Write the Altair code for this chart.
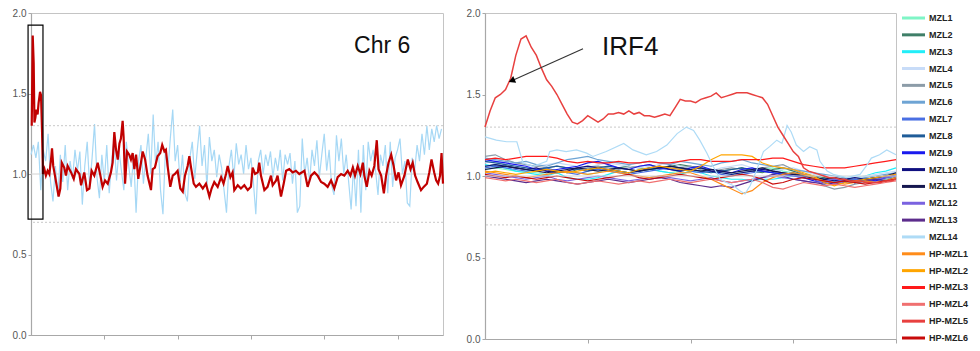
import altair as alt
import pandas as pd

# ---------------- Left panel: Chr 6 (x in Mb) ----------------
left_x_max = 168.6
left_ticks = [30, 60, 90, 120, 150]

# light-blue trace, one value per Mb (0..168)
left_blue = [
    1.12, 1.18, 1.10, 1.20, 0.90, 1.15, 1.08, 1.25, 0.95, 0.83,
    1.05, 0.86, 1.12, 0.95, 1.18, 0.90, 1.08, 0.97, 1.15, 1.02,
    1.14, 0.81, 1.05, 1.20, 0.92, 1.10, 1.31, 0.98, 0.85, 1.12,
    0.95, 1.18, 0.88, 1.08, 1.22, 0.96, 1.15, 1.02, 0.90, 1.20,
    1.05, 0.92, 1.12, 0.76, 1.08, 1.18, 0.94, 1.10, 1.25, 1.00,
    1.37, 1.05, 1.20, 0.90, 0.75, 1.15, 1.02, 1.22, 1.40, 1.08,
    1.18, 0.95, 1.12, 0.88, 0.83, 1.10, 1.20, 0.97, 1.14, 1.30,
    1.05, 1.18, 0.92, 1.23, 1.08, 1.15, 0.98, 1.12, 1.04, 0.90,
    0.76, 1.05, 1.15, 0.97, 1.19, 1.06, 1.12, 1.00, 1.18, 1.03,
    1.10, 0.95, 0.75, 1.08, 1.15, 1.00, 1.12, 1.05, 1.14, 0.98,
    1.10, 1.02, 1.15, 0.96, 1.12, 1.06, 1.13, 0.94, 1.08, 0.76,
    0.80, 1.22, 1.00, 1.10, 0.95, 1.15, 1.05, 1.21, 0.98, 1.12,
    1.25, 1.02, 1.15, 0.93, 0.87, 1.24, 1.08, 1.22, 1.00, 1.12,
    0.95, 0.78, 1.05, 0.80, 1.15, 0.76, 1.18, 0.90, 1.20, 1.08,
    1.15, 1.02, 0.87, 1.12, 1.05, 1.18, 0.88, 1.20, 0.92, 1.10,
    1.15, 1.22, 1.00, 1.08, 0.82, 0.80, 1.10, 1.02, 1.18, 1.08,
    1.25, 1.12, 1.30, 1.15, 1.28, 1.20, 1.30, 1.22, 1.28,
]
left_blue_mb = list(range(len(left_blue)))

# dark-red trace, (Mb, ratio)
left_red_points = [
    (0.3, 1.30), (0.7, 1.86), (1.1, 1.69), (1.4, 1.32), (1.8, 1.35), (2.2, 1.40),
    (2.7, 1.37), (3.1, 1.44), (3.7, 1.51), (4.1, 1.49), (4.5, 1.28), (4.9, 1.00),
    (5.5, 1.03), (6.1, 0.99), (6.8, 1.02), (7.5, 1.00), (8.2, 1.09), (8.6, 1.16),
    (9.1, 1.05), (9.8, 0.99), (10.6, 0.92), (11.3, 0.86), (12.0, 0.91), (12.6, 1.07),
    (13.6, 1.04), (14.3, 0.99), (15.0, 1.05), (16.4, 1.01), (17.5, 0.97), (18.4, 1.03),
    (19.8, 1.00), (20.5, 0.93), (21.8, 1.01), (22.9, 0.90), (23.9, 0.91), (24.8, 1.02),
    (25.9, 0.99), (27.3, 1.07), (28.4, 0.99), (29.3, 0.92), (30.3, 0.96), (31.4, 0.94),
    (32.7, 1.01), (33.4, 1.07), (34.1, 1.26), (34.8, 1.15), (35.5, 1.09), (36.2, 1.19),
    (36.8, 1.22), (37.5, 1.33), (37.9, 1.23), (38.5, 0.94), (39.3, 1.14), (40.2, 1.12),
    (40.9, 1.09), (41.6, 1.13), (42.3, 1.03), (43.0, 1.12), (43.9, 0.97), (45.0, 1.07),
    (45.7, 1.14), (46.7, 1.09), (47.7, 0.99), (49.1, 0.90), (49.8, 1.03), (50.7, 1.04),
    (51.8, 1.11), (52.9, 1.13), (53.7, 1.18), (54.6, 1.14), (55.2, 1.15), (55.9, 1.05),
    (57.0, 0.92), (58.0, 0.99), (58.9, 1.00), (60.0, 1.02), (61.1, 0.91), (62.1, 0.89),
    (63.0, 0.99), (64.1, 1.05), (64.8, 1.11), (65.5, 1.04), (66.6, 0.94), (67.5, 0.92),
    (68.9, 0.94), (70.3, 0.91), (71.6, 0.94), (73.0, 0.86), (73.9, 0.91), (75.0, 0.95),
    (76.4, 0.92), (77.8, 0.98), (78.8, 0.94), (79.8, 1.00), (80.5, 1.05), (81.6, 0.98),
    (82.5, 1.01), (83.2, 0.90), (84.6, 0.93), (85.9, 0.91), (87.3, 0.93), (88.7, 0.90),
    (90.0, 0.92), (90.7, 1.04), (91.7, 1.00), (92.8, 1.01), (93.4, 1.07), (94.1, 0.99),
    (95.5, 0.90), (96.8, 0.92), (98.2, 0.99), (98.9, 0.93), (100.3, 0.96), (100.9, 0.99),
    (102.3, 0.86), (103.4, 0.94), (104.4, 1.02), (105.7, 1.03), (107.1, 1.01), (108.4, 1.02),
    (109.8, 1.00), (111.9, 1.02), (113.2, 0.92), (114.6, 0.99), (116.0, 1.01), (117.3, 0.99),
    (118.7, 0.95), (120.0, 0.94), (121.4, 0.92), (122.8, 0.96), (124.1, 0.91), (125.5, 0.98),
    (126.9, 1.00), (128.2, 0.99), (129.6, 1.02), (130.7, 0.99), (131.7, 1.04), (132.6, 0.99),
    (133.7, 1.05), (134.8, 1.00), (135.8, 1.07), (136.4, 0.99), (137.4, 0.92), (138.5, 1.02),
    (139.4, 0.99), (140.5, 1.05), (141.5, 1.21), (142.2, 1.03), (143.3, 0.99), (144.4, 0.88),
    (145.3, 0.99), (146.3, 1.07), (147.4, 1.12), (148.4, 1.05), (149.4, 0.96), (150.4, 1.01),
    (151.4, 0.93), (152.8, 0.99), (154.2, 1.09), (155.3, 1.03), (156.2, 1.07), (157.2, 0.99),
    (158.2, 0.95), (159.6, 0.90), (160.7, 0.92), (162.0, 0.94), (163.0, 1.01), (163.9, 1.09),
    (165.0, 1.01), (165.8, 0.96), (166.6, 0.94), (167.4, 0.99), (168.0, 1.13), (168.6, 0.94),
]

# highlighted region box (Mb range, ratio range) and label
left_box = {"x": -1.2, "x2": 4.9, "y": 1.925, "y2": 0.72}
left_label = {"text": "Chr 6", "x": 132.2, "y": 1.75}

# ---------------- Right panel: zoomed region ----------------
right_x_max = 4.0
right_ticks = [1, 2, 3, 4]
right_step = 0.1

series_names = ["MZL1", "MZL2", "MZL3", "MZL4", "MZL5", "MZL6", "MZL7", "MZL8", "MZL9",
                "MZL10", "MZL11", "MZL12", "MZL13", "MZL14",
                "HP-MZL1", "HP-MZL2", "HP-MZL3", "HP-MZL4", "HP-MZL5", "HP-MZL6"]
series_colors = ["#7ff5c6", "#3f7f68", "#22eef8", "#c8dcf8", "#8c9ca8", "#6ea4d4",
                 "#4a6fe3", "#1f5c98", "#1a1aee", "#101080", "#15174f", "#7a62e0",
                 "#5c2c8c", "#aedbf6",
                 "#ff8c1a", "#ffa500", "#ff1a1a", "#f07070", "#e8403f", "#c80a0a"]

right_bundle = {
    "MZL1": [1.04, 1.05, 1.04, 1.03, 1.03, 1.02, 1.01, 1.02, 1.03, 1.02,
             1.01, 1.02, 1.04, 1.03, 1.02, 1.03, 1.04, 1.03, 1.02, 1.03,
             1.04, 1.05, 1.03, 1.02, 1.01, 1.02, 1.03, 1.04, 1.05, 1.03,
             1.02, 1.00, 0.99, 0.98, 0.97, 0.98, 0.97, 0.98, 0.99, 0.98, 1.00],
    "MZL2": [1.06, 1.07, 1.06, 1.05, 1.04, 1.03, 1.04, 1.03, 1.02, 1.04,
             1.05, 1.04, 1.03, 1.05, 1.06, 1.05, 1.04, 1.05, 1.06, 1.07,
             1.06, 1.05, 1.04, 1.03, 1.04, 1.05, 1.03, 1.02, 1.04, 1.05,
             1.03, 1.01, 1.00, 0.99, 0.98, 0.97, 0.96, 0.97, 0.98, 0.97, 0.99],
    "MZL3": [1.07, 1.06, 1.05, 1.03, 1.02, 1.01, 1.00, 1.02, 0.99, 0.98,
             0.98, 0.99, 1.01, 1.03, 1.02, 1.04, 1.05, 1.03, 1.02, 1.01,
             1.03, 1.02, 1.00, 0.99, 0.98, 0.98, 0.97, 0.98, 0.98, 0.99,
             1.00, 1.01, 0.99, 0.98, 0.97, 0.98, 0.99, 1.00, 1.02, 1.03, 1.05],
    "MZL4": [1.08, 1.09, 1.07, 1.06, 1.05, 1.06, 1.07, 1.08, 1.07, 1.06,
             1.05, 1.07, 1.08, 1.07, 1.06, 1.05, 1.06, 1.07, 1.08, 1.06,
             1.05, 1.04, 1.03, 1.05, 1.06, 1.07, 1.05, 1.04, 1.03, 1.04,
             1.05, 1.03, 1.01, 1.00, 0.99, 0.98, 0.99, 1.00, 1.01, 1.02, 1.03],
    "MZL5": [1.12, 1.13, 1.10, 1.08, 1.07, 1.06, 1.05, 1.06, 1.05, 1.04,
             1.05, 1.06, 1.05, 1.04, 1.05, 1.06, 1.07, 1.05, 1.04, 1.05,
             1.06, 1.04, 1.03, 1.04, 1.05, 1.04, 1.03, 1.05, 1.06, 1.07,
             1.04, 1.01, 0.98, 0.94, 0.92, 0.93, 0.95, 0.96, 0.97, 0.98, 0.99],
    "MZL6": [1.11, 1.10, 1.09, 1.08, 1.09, 1.07, 1.06, 1.08, 1.10, 1.11,
             1.12, 1.10, 1.09, 1.08, 1.07, 1.08, 1.09, 1.08, 1.07, 1.09,
             1.08, 1.07, 1.06, 1.08, 1.09, 1.10, 1.08, 1.07, 1.06, 1.05,
             1.04, 1.03, 1.02, 1.01, 1.00, 0.99, 0.98, 0.99, 1.00, 1.01, 1.02],
    "MZL7": [1.05, 1.06, 1.05, 1.04, 1.03, 1.04, 1.05, 1.03, 1.02, 1.01,
             1.03, 1.04, 1.03, 1.02, 1.01, 1.02, 1.03, 1.04, 1.05, 1.04,
             1.03, 1.02, 1.03, 1.01, 1.00, 1.01, 1.02, 1.03, 1.02, 1.01,
             1.00, 0.99, 0.98, 0.97, 0.96, 0.97, 0.98, 0.97, 0.99, 1.00, 1.01],
    "MZL8": [1.09, 1.08, 1.07, 1.06, 1.05, 1.04, 1.05, 1.06, 1.05, 1.04,
             1.03, 1.05, 1.06, 1.05, 1.04, 1.03, 1.04, 1.05, 1.06, 1.05,
             1.04, 1.03, 1.02, 1.03, 1.04, 1.05, 1.04, 1.03, 1.02, 1.01,
             1.02, 1.00, 0.99, 0.98, 0.99, 0.97, 0.96, 0.97, 0.98, 0.99, 1.00],
    "MZL9": [1.10, 1.09, 1.08, 1.07, 1.06, 1.04, 1.03, 1.04, 1.05, 1.06,
             1.08, 1.09, 1.07, 1.05, 1.04, 1.06, 1.07, 1.05, 1.04, 1.03,
             1.05, 1.06, 1.04, 1.03, 1.02, 1.04, 1.05, 1.03, 1.02, 1.01,
             1.00, 0.99, 0.97, 0.96, 0.95, 0.96, 0.97, 0.98, 0.97, 0.99, 1.01],
    "MZL10": [1.06, 1.07, 1.06, 1.05, 1.04, 1.05, 1.03, 1.02, 1.03, 1.05,
              1.06, 1.05, 1.04, 1.03, 1.02, 1.03, 1.05, 1.06, 1.04, 1.03,
              1.04, 1.05, 1.03, 1.02, 1.01, 1.02, 1.03, 1.04, 1.03, 1.02,
              1.01, 1.00, 0.99, 0.98, 0.97, 0.98, 0.99, 0.98, 0.99, 1.00, 1.01],
    "MZL11": [1.04, 1.05, 1.06, 1.05, 1.04, 1.03, 1.02, 1.03, 1.04, 1.05,
              1.04, 1.03, 1.04, 1.05, 1.04, 1.03, 1.04, 1.05, 1.06, 1.05,
              1.04, 1.03, 1.04, 1.03, 1.02, 1.03, 1.04, 1.05, 1.03, 1.02,
              1.01, 1.00, 0.99, 0.98, 0.99, 0.98, 0.97, 0.98, 0.99, 1.00, 1.02],
    "MZL12": [1.02, 1.01, 1.00, 0.99, 0.98, 0.99, 1.00, 0.98, 0.97, 0.98,
              0.99, 1.00, 0.99, 0.98, 0.97, 0.98, 0.99, 1.00, 0.99, 0.98,
              0.97, 0.98, 0.99, 0.97, 0.96, 0.97, 0.98, 0.99, 1.00, 0.99,
              0.98, 0.97, 0.96, 0.97, 0.98, 0.97, 0.96, 0.97, 0.98, 0.99, 1.00],
    "MZL13": [1.00, 0.99, 0.98, 0.97, 0.96, 0.97, 0.98, 0.97, 0.96, 0.95,
              0.96, 0.97, 0.98, 0.97, 0.96, 0.97, 0.98, 0.99, 0.98, 0.96,
              0.95, 0.94, 0.93, 0.94, 0.93, 0.95, 0.97, 0.99, 1.01, 1.00,
              0.98, 0.97, 0.96, 0.95, 0.96, 0.97, 0.96, 0.97, 0.98, 0.97, 0.99],
    "HP-MZL1": [1.03, 1.02, 1.01, 1.00, 0.99, 1.00, 1.01, 1.02, 1.03, 1.02,
                1.01, 1.02, 1.03, 1.02, 1.01, 1.00, 0.99, 1.00, 1.01, 1.02,
                1.02, 1.00, 0.98, 0.95, 0.92, 0.89, 0.91, 0.96, 0.99, 1.01,
                1.02, 1.01, 0.99, 0.97, 0.96, 0.95, 0.96, 0.97, 0.96, 0.97, 0.99],
    "HP-MZL2": [1.02, 1.03, 1.02, 1.01, 1.02, 1.03, 1.04, 1.03, 1.02, 1.03,
                1.04, 1.05, 1.04, 1.03, 1.02, 1.04, 1.05, 1.06, 1.05, 1.04,
                1.03, 1.06, 1.10, 1.13, 1.13, 1.13, 1.12, 1.08, 1.06, 1.05,
                1.04, 1.02, 1.00, 0.96, 0.94, 0.96, 0.97, 0.98, 0.99, 1.00, 1.01],
    "HP-MZL3": [1.10, 1.11, 1.10, 1.11, 1.12, 1.12, 1.12, 1.11, 1.09, 1.08,
                1.09, 1.08, 1.08, 1.09, 1.08, 1.08, 1.09, 1.08, 1.08, 1.09,
                1.10, 1.10, 1.09, 1.09, 1.09, 1.10, 1.10, 1.10, 1.11, 1.11,
                1.09, 1.07, 1.06, 1.05, 1.05, 1.05, 1.06, 1.07, 1.08, 1.09, 1.10],
    "HP-MZL4": [0.99, 0.98, 0.97, 0.98, 0.97, 0.96, 0.97, 0.98, 0.96, 0.95,
                0.96, 0.97, 0.96, 0.95, 0.96, 0.97, 0.96, 0.97, 0.98, 0.97,
                0.96, 0.97, 0.98, 0.97, 0.96, 0.97, 0.98, 0.96, 0.93, 0.92,
                0.94, 0.96, 0.95, 0.94, 0.95, 0.94, 0.93, 0.94, 0.95, 0.96, 0.97],
    "HP-MZL6": [1.01, 1.00, 0.99, 1.00, 0.99, 0.98, 0.99, 1.00, 0.99, 0.98,
                0.97, 0.98, 0.99, 1.00, 1.01, 0.99, 0.98, 0.99, 1.00, 1.01,
                1.00, 0.99, 0.98, 0.99, 1.00, 1.01, 1.00, 0.98, 0.95, 0.96,
                0.98, 0.99, 0.98, 0.97, 0.96, 0.97, 0.96, 0.95, 0.96, 0.97, 0.98],
}

# IRF4 amplified sample (HP-MZL5), every 0.05
irf4_step = 0.05
irf4_values = [
    1.30, 1.40, 1.48, 1.50, 1.53, 1.60, 1.74, 1.84, 1.86, 1.79,
    1.74, 1.66, 1.59, 1.55, 1.50, 1.44, 1.38, 1.33, 1.32, 1.34,
    1.37, 1.35, 1.33, 1.35, 1.38, 1.38, 1.39, 1.38, 1.40, 1.38,
    1.39, 1.37, 1.37, 1.36, 1.37, 1.38, 1.37, 1.42, 1.47, 1.46,
    1.46, 1.45, 1.47, 1.48, 1.49, 1.51, 1.48, 1.49, 1.50, 1.51,
    1.51, 1.51, 1.50, 1.49, 1.48, 1.44, 1.37, 1.30, 1.25, 1.20,
    1.15, 1.12, 1.05, 1.03, 1.02, 1.01, 1.00, 0.99, 0.99, 0.98,
    0.98, 0.97, 0.97, 0.97, 0.96, 0.96, 0.96, 0.96, 0.97, 0.97,
    0.98,
]

# MZL14 (x, ratio)
mzl14_points = [
    (0.00, 1.24), (0.11, 1.22), (0.21, 1.21), (0.31, 1.21), (0.37, 1.08), (0.47, 1.06),
    (0.60, 1.09), (0.63, 1.15), (0.70, 1.16), (0.79, 1.15), (0.89, 1.16), (0.99, 1.14),
    (1.05, 1.12), (1.18, 1.15), (1.35, 1.20), (1.44, 1.16), (1.57, 1.13), (1.67, 1.15),
    (1.77, 1.19), (1.87, 1.26), (1.96, 1.30), (2.03, 1.28), (2.09, 1.22), (2.16, 1.14),
    (2.22, 1.06), (2.29, 0.98), (2.35, 0.96), (2.42, 0.94), (2.48, 0.91), (2.53, 0.89),
    (2.58, 0.94), (2.64, 1.03), (2.71, 1.15), (2.77, 1.18), (2.84, 1.22), (2.89, 1.20),
    (2.94, 1.31), (2.98, 1.27), (3.03, 1.19), (3.10, 1.15), (3.16, 1.18), (3.23, 1.16),
    (3.26, 1.09), (3.33, 1.03), (3.39, 1.01), (3.52, 0.99), (3.65, 1.01), (3.71, 1.06),
    (3.76, 1.11), (3.84, 1.13), (3.91, 1.16), (4.00, 1.13),
]

irf4_label = {"text": "IRF4", "x": 1.139, "y": 1.74}
arrow_from = (0.954, 1.78)
arrow_to = (0.260, 1.585)

thresholds = [0.7, 1.3]
baseline = [1.0]
y_ticks = [0, 0.5, 1.0, 1.5, 2.0]

# ---------------- build tables ----------------
blue_df = pd.DataFrame({"x": left_blue_mb, "y": left_blue})
red_df = pd.DataFrame(left_red_points, columns=["x", "y"])
box_df = pd.DataFrame([left_box])
chr_df = pd.DataFrame([left_label])

rows = []
for name, vals in right_bundle.items():
    for i, v in enumerate(vals):
        rows.append({"name": name, "x": round(i * right_step, 3), "y": v})
bundle_df = pd.DataFrame(rows)
irf4_df = pd.DataFrame({"name": "HP-MZL5",
                        "x": [round(i * irf4_step, 3) for i in range(len(irf4_values))],
                        "y": irf4_values})
mzl14_df = pd.DataFrame(mzl14_points, columns=["x", "y"])
mzl14_df["name"] = "MZL14"
irf4_lab_df = pd.DataFrame([irf4_label])
arrow_df = pd.DataFrame({"x": [arrow_from[0]], "y": [arrow_from[1]],
                         "x2": [arrow_to[0]], "y2": [arrow_to[1]]})
head_df = pd.DataFrame({"x": [arrow_to[0]], "y": [arrow_to[1]]})
thr_df = pd.DataFrame({"y": thresholds})
base_df = pd.DataFrame({"y": baseline})
legend_df = pd.DataFrame({"name": series_names})

FONT = "Liberation Sans"
AX = "#a8a8a8"


def y_enc(extent):
    return alt.Y("y:Q", title=None,
                 scale=alt.Scale(domain=[0, 2], nice=False, zero=False),
                 axis=alt.Axis(values=y_ticks, format=".1f", tickSize=3, labelPadding=2,
                               minExtent=extent, maxExtent=extent, grid=False))


def x_enc(xmax, ticks):
    return alt.X("x:Q", title=None,
                 scale=alt.Scale(domain=[0, xmax], nice=False, zero=False),
                 axis=alt.Axis(values=ticks, labels=False, tickSize=4, grid=False))


def guide_layers():
    base = alt.Chart(base_df).mark_rule(color="#d2d2d2", strokeWidth=1).encode(y="y:Q")
    thr = alt.Chart(thr_df).mark_rule(color="#c8c8c8", strokeWidth=1,
                                       strokeDash=[2, 2]).encode(y="y:Q")
    return base, thr


# ---------------- left chart ----------------
lb, lt = guide_layers()
left_blue_line = alt.Chart(blue_df).mark_line(color="#a6d8f5", strokeWidth=1.2).encode(
    x=x_enc(left_x_max, left_ticks), y=y_enc(30))
left_red_line = alt.Chart(red_df).mark_line(color="#c00000", strokeWidth=2.2).encode(
    x="x:Q", y="y:Q")
box = alt.Chart(box_df).mark_rect(filled=False, stroke="black", strokeWidth=1.2).encode(
    x="x:Q", x2="x2:Q", y="y:Q", y2="y2:Q")
chr_text = alt.Chart(chr_df).mark_text(align="left", baseline="alphabetic", font=FONT,
                                       fontSize=23, color="#111").encode(
    x="x:Q", y="y:Q", text="text:N")

left = alt.layer(left_blue_line, lb, lt, left_red_line, box, chr_text).properties(
    width=412, height=322)

# ---------------- right chart ----------------
color_scale = alt.Scale(domain=series_names, range=series_colors)
rb, rt = guide_layers()
bundle = alt.Chart(bundle_df).mark_line(strokeWidth=1.2).encode(
    x=x_enc(right_x_max, right_ticks), y=y_enc(36),
    color=alt.Color("name:N", scale=color_scale, legend=None))
mzl14 = alt.Chart(mzl14_df).mark_line(strokeWidth=1.2).encode(
    x="x:Q", y="y:Q", color=alt.Color("name:N", scale=color_scale, legend=None))
irf4 = alt.Chart(irf4_df).mark_line(strokeWidth=1.5).encode(
    x="x:Q", y="y:Q", color=alt.Color("name:N", scale=color_scale, legend=None))
arrow_line = alt.Chart(arrow_df).mark_rule(color="#333", strokeWidth=1.1).encode(
    x="x:Q", y="y:Q", x2="x2:Q", y2="y2:Q")
arrow_head = alt.Chart(head_df).mark_point(shape="triangle-up", filled=True, color="black",
                                           size=55, angle=247, opacity=1).encode(
    x="x:Q", y="y:Q")
irf4_text = alt.Chart(irf4_lab_df).mark_text(align="left", baseline="alphabetic", font=FONT,
                                             fontSize=26, color="#111").encode(
    x="x:Q", y="y:Q", text="text:N")

right = alt.layer(bundle, rb, rt, mzl14, irf4, arrow_line, arrow_head, irf4_text).properties(
    width=411, height=326)

# ---------------- legend ----------------
leg_y = alt.Y("name:N", axis=None, title=None,
              scale=alt.Scale(type="point", domain=series_names, range=[5, 325], padding=0))
leg_rule = alt.Chart(legend_df).mark_rule(strokeWidth=3).encode(
    x=alt.value(0), x2=alt.value(23), y=leg_y,
    color=alt.Color("name:N", scale=color_scale, legend=None))
leg_text = alt.Chart(legend_df).mark_text(align="left", baseline="middle", font=FONT,
                                          fontSize=9, fontWeight="bold", color="#222").encode(
    x=alt.value(27), y=leg_y, text="name:N")
legend = alt.layer(leg_rule, leg_text).properties(
    width=75, height=330, view=alt.ViewBackground(strokeOpacity=0))

chart = alt.hconcat(left, right, legend, spacing=0).properties(
    padding={"left": 0, "top": 7, "right": 0, "bottom": 0},
    background="white",
).configure_axis(
    labelFont=FONT, labelFontSize=10, labelColor="#555",
    domainColor=AX, tickColor=AX, domainWidth=1.2,
).configure_view(stroke="#c4c4c4")

chart.save("out.html", embed_options={"renderer": "svg", "actions": False})
